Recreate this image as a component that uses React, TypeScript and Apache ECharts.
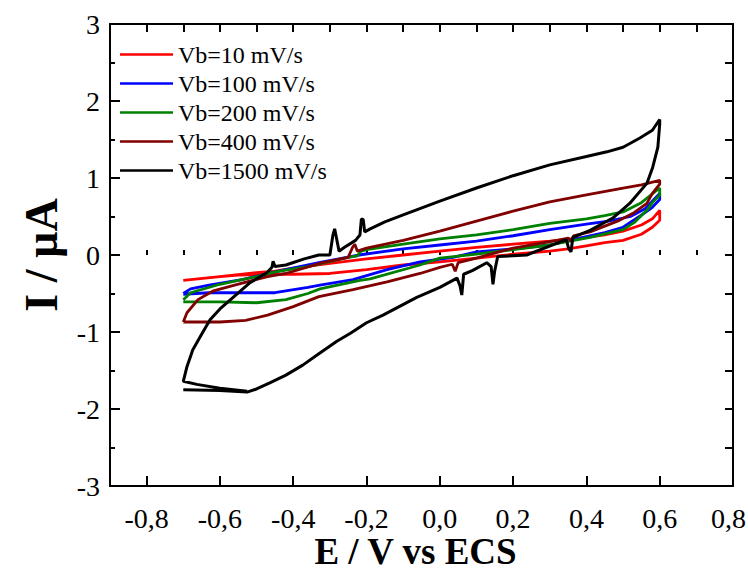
import React, { useEffect, useRef } from "react";
import * as echarts from "echarts";

// Tick values
const xMajorTicks = [-0.8, -0.6, -0.4, -0.2, 0.0, 0.2, 0.4, 0.6, 0.8];
const seriesNames = ["Vb=10 mV/s", "Vb=100 mV/s", "Vb=200 mV/s", "Vb=400 mV/s", "Vb=1500 mV/s"];
const seriesColors = ["#ff0000", "#0000ff", "#008000", "#800000", "#000000"];

// Vb = 10 mV/s  (E / V, I / µA)
const vb10: number[][] = [
  [-0.7, -0.33], [-0.6, -0.28], [-0.5, -0.23], [-0.45, -0.21], [-0.4, -0.17], [-0.3, -0.11],
  [-0.2, -0.05], [-0.1, 0.0], [0.0, 0.05], [0.1, 0.1], [0.2, 0.14], [0.3, 0.18], [0.4, 0.23],
  [0.45, 0.26], [0.5, 0.31], [0.55, 0.39], [0.58, 0.47], [0.6, 0.58],
  [0.6, 0.45], [0.58, 0.36], [0.55, 0.27], [0.5, 0.19], [0.45, 0.16], [0.4, 0.12], [0.35, 0.08],
  [0.3, 0.05], [0.2, 0.01], [0.1, -0.04], [0.0, -0.09], [-0.1, -0.13], [-0.2, -0.19],
  [-0.3, -0.24], [-0.4, -0.25], [-0.47, -0.25], [-0.55, -0.26], [-0.6, -0.28], [-0.7, -0.33],
];

// Vb = 100 mV/s
const vb100: number[][] = [
  [-0.7, -0.5], [-0.68, -0.44], [-0.63, -0.39], [-0.54, -0.32], [-0.45, -0.22], [-0.33, -0.1],
  [-0.22, 0.0], [-0.1, 0.08], [0.0, 0.13], [0.1, 0.18], [0.2, 0.25], [0.3, 0.33], [0.4, 0.4],
  [0.46, 0.44], [0.52, 0.5], [0.56, 0.6], [0.6, 0.8],
  [0.6, 0.72], [0.58, 0.62], [0.56, 0.55], [0.5, 0.36], [0.45, 0.29], [0.4, 0.24], [0.3, 0.13],
  [0.2, 0.08], [0.1, 0.04], [0.036, -0.03], [-0.054, -0.09], [-0.144, -0.19], [-0.237, -0.32],
  [-0.327, -0.39], [-0.36, -0.42], [-0.45, -0.49], [-0.54, -0.49], [-0.63, -0.49], [-0.7, -0.51],
];

// Vb = 200 mV/s
const vb200: number[][] = [
  [-0.7, -0.58], [-0.68, -0.49], [-0.6, -0.38], [-0.5, -0.28], [-0.45, -0.22], [-0.36, -0.15],
  [-0.25, -0.03], [-0.225, -0.01], [-0.215, 0.05], [-0.2, 0.07], [-0.1, 0.14], [0.0, 0.21],
  [0.1, 0.26], [0.2, 0.33], [0.3, 0.41], [0.4, 0.47], [0.45, 0.51], [0.5, 0.56], [0.55, 0.68],
  [0.6, 0.87],
  [0.6, 0.78], [0.58, 0.68], [0.565, 0.58], [0.53, 0.42], [0.5, 0.33], [0.41, 0.23], [0.3, 0.13],
  [0.2, 0.07], [0.1, 0.01], [0.0, -0.04], [-0.054, -0.13], [-0.19, -0.31], [-0.218, -0.33],
  [-0.327, -0.44], [-0.36, -0.5], [-0.42, -0.58], [-0.5, -0.62], [-0.6, -0.61], [-0.7, -0.61],
];

// Vb = 400 mV/s
const vb400: number[][] = [
  [-0.7, -0.87], [-0.69, -0.75], [-0.66, -0.58], [-0.62, -0.47], [-0.56, -0.39], [-0.47, -0.28],
  [-0.42, -0.24], [-0.32, -0.1], [-0.25, -0.03], [-0.238, 0.1], [-0.232, 0.14], [-0.225, 0.05],
  [-0.2, 0.09], [-0.1, 0.19], [0.0, 0.31], [0.1, 0.44], [0.2, 0.57], [0.3, 0.69], [0.4, 0.78],
  [0.5, 0.87], [0.55, 0.91], [0.6, 0.97],
  [0.6, 0.92], [0.58, 0.8], [0.565, 0.67], [0.53, 0.55], [0.49, 0.45], [0.41, 0.3], [0.365, 0.25],
  [0.358, 0.18], [0.35, 0.22], [0.32, 0.19], [0.2, 0.09], [0.1, -0.04], [0.05, -0.1],
  [0.042, -0.21], [0.034, -0.12], [0.0, -0.16], [-0.054, -0.24], [-0.144, -0.35],
  [-0.237, -0.45], [-0.33, -0.54], [-0.4, -0.67], [-0.47, -0.78], [-0.53, -0.85], [-0.6, -0.87],
  [-0.7, -0.87],
];

// Vb = 1500 mV/s
const vb1500: number[][] = [
  [-0.7, -1.75], [-0.6, -1.76], [-0.526, -1.78],
  [-0.5, -1.74], [-0.464, -1.66], [-0.42, -1.56], [-0.374, -1.43], [-0.335, -1.3], [-0.281, -1.12],
  [-0.245, -1.02], [-0.2, -0.88], [-0.155, -0.78], [-0.063, -0.55], [0.0, -0.42], [0.047, -0.3],
  [0.055, -0.4], [0.06, -0.52], [0.065, -0.25], [0.09, -0.2], [0.128, -0.1], [0.14, -0.15],
  [0.145, -0.38], [0.15, -0.2], [0.158, -0.02], [0.237, 0.0], [0.319, 0.15], [0.345, 0.2],
  [0.352, 0.08], [0.358, 0.04], [0.363, 0.23], [0.41, 0.32], [0.472, 0.48], [0.518, 0.67],
  [0.565, 0.93], [0.581, 1.14], [0.595, 1.4], [0.6, 1.7],
  [0.6, 1.76], [0.58, 1.62], [0.546, 1.52], [0.5, 1.4], [0.456, 1.34], [0.4, 1.28], [0.3, 1.17],
  [0.2, 1.03], [0.1, 0.87], [0.0, 0.7], [-0.1, 0.52], [-0.15, 0.43], [-0.19, 0.34],
  [-0.205, 0.3], [-0.209, 0.46], [-0.214, 0.47], [-0.218, 0.26], [-0.23, 0.19], [-0.26, 0.1],
  [-0.275, 0.05], [-0.282, 0.22], [-0.287, 0.34], [-0.292, 0.25], [-0.3, 0.0], [-0.33, 0.0],
  [-0.37, -0.05], [-0.42, -0.13], [-0.45, -0.15], [-0.455, -0.08], [-0.458, -0.16],
  [-0.472, -0.23], [-0.518, -0.36], [-0.564, -0.55], [-0.6, -0.7], [-0.627, -0.84],
  [-0.65, -1.03], [-0.674, -1.23], [-0.69, -1.45], [-0.7, -1.64],
  [-0.663, -1.68], [-0.6, -1.73], [-0.526, -1.77],
];

const seriesData = [vb10, vb100, vb200, vb400, vb1500];

const FONT = "Liberation Serif";

export default function App() {
  const ref = useRef<HTMLDivElement>(null);
  useEffect(() => {
    if (!ref.current) return;
    const chart = echarts.init(ref.current, undefined, { renderer: "svg" });
    const fmt = (v: number) => v.toFixed(1).replace(".", ",").replace("-0,0", "0,0");
    const axisLine = { show: true, onZero: false, lineStyle: { color: "#000", width: 2 } };
    chart.setOption({
      animation: false,
      backgroundColor: "#fff",
      grid: { left: 110, right: 15, top: 24, bottom: 88, containLabel: false, outerBoundsMode: "none" },
      legend: {
        left: 120,
        top: 40,
        padding: 0,
        orient: "vertical",
        itemWidth: 53,
        itemHeight: 2.5,
        itemGap: 0,
        icon: "rect",
        textStyle: { fontFamily: FONT, fontSize: 24, color: "#000", lineHeight: 29 },
        data: seriesNames.map((n) => ({ name: n, icon: "rect" })),
      },
      xAxis: [
        {
          type: "value",
          min: -0.9,
          max: 0.8,
          position: "bottom",
          axisLine,
          splitLine: { show: false },
          axisTick: {
            show: true,
            inside: true,
            length: 10,
            lineStyle: { color: "#000", width: 2 },
            customValues: xMajorTicks,
          },
          axisLabel: {
            show: true,
            customValues: xMajorTicks,
            formatter: (v: number) => (v > 0.75 ? "{last|" + fmt(v) + "}" : fmt(v)),
            fontFamily: FONT,
            fontSize: 28,
            color: "#000",
            margin: 18,
            rich: {
              last: { fontFamily: FONT, fontSize: 28, color: "#000", padding: [0, 9, 0, 0] },
            },
          },
          name: "E / V vs ECS",
          nameLocation: "middle",
          nameGap: 47,
          nameMoveOverlap: false,
          nameTextStyle: {
            fontFamily: FONT,
            fontSize: 37,
            fontWeight: "bold",
            color: "#000",
            lineHeight: 37,
            padding: [0, 12, 0, 0],
          },
        },
        {
          type: "value",
          min: -0.9,
          max: 0.8,
          interval: 0.1,
          position: "bottom",
          axisLine: { show: false },
          splitLine: { show: false },
          axisTick: { show: true, inside: true, length: 5, lineStyle: { color: "#000", width: 2 } },
          axisLabel: { show: false },
        },
        {
          type: "value",
          min: -0.9,
          max: 0.8,
          interval: 0.1,
          position: "top",
          axisLine,
          splitLine: { show: false },
          axisTick: { show: true, inside: true, length: 8, lineStyle: { color: "#000", width: 2 } },
          axisLabel: { show: false },
        },
      ],
      yAxis: [
        {
          type: "value",
          min: -3,
          max: 3,
          interval: 1,
          position: "left",
          axisLine,
          splitLine: { show: false },
          axisTick: { show: true, inside: true, length: 10, lineStyle: { color: "#000", width: 2 } },
          minorTick: { show: true, splitNumber: 2, length: 5, lineStyle: { color: "#000", width: 2 } },
          minorSplitLine: { show: false },
          axisLabel: {
            show: true,
            fontFamily: FONT,
            fontSize: 28,
            color: "#000",
            margin: 10,
          },
          name: "I / µA",
          nameLocation: "middle",
          nameRotate: 90,
          nameGap: 46,
          nameTextStyle: { fontFamily: FONT, fontSize: 46, fontWeight: "bold", color: "#000", lineHeight: 46 },
        },
        {
          type: "value",
          min: -3,
          max: 3,
          interval: 0.5,
          position: "right",
          axisLine,
          splitLine: { show: false },
          axisTick: { show: true, inside: true, length: 8, lineStyle: { color: "#000", width: 2 } },
          axisLabel: { show: false },
        },
      ],
      series: seriesData.map((d, i) => ({
        name: seriesNames[i],
        type: "line",
        xAxisIndex: 0,
        yAxisIndex: 0,
        data: d,
        symbol: "none",
        showSymbol: false,
        smooth: false,
        color: seriesColors[i],
        lineStyle: { color: seriesColors[i], width: i === 4 ? 3 : 2.8 },
        z: 2 + i,
      })),
    });
    return () => chart.dispose();
  }, []);
  return <div ref={ref} style={{ width: 748, height: 574, position: "absolute", left: 0, top: 0 }} />;
}
